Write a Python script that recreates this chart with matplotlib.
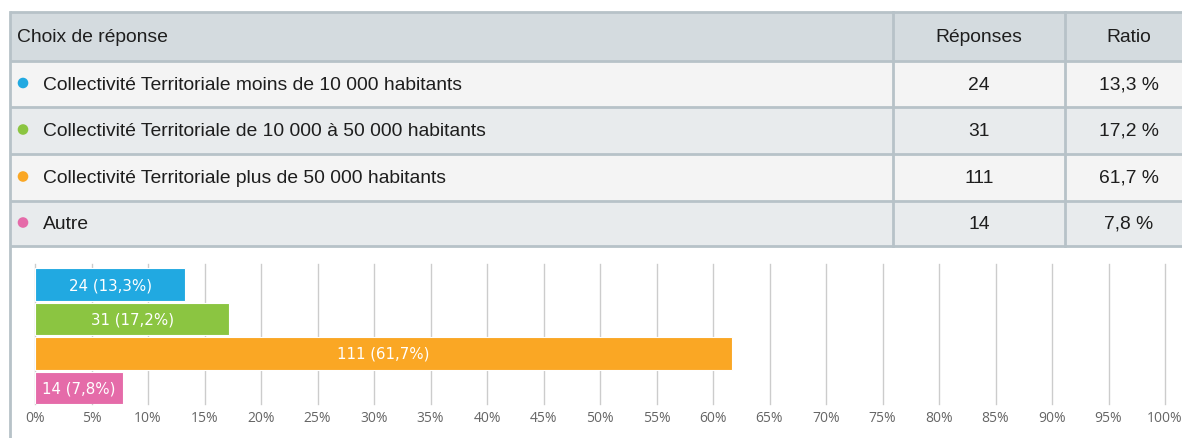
import matplotlib
matplotlib.use("Agg")
import matplotlib.pyplot as plt
from matplotlib.patches import Rectangle, Circle

# ---- data ----
categories = [
    "Collectivité Territoriale moins de 10 000 habitants",
    "Collectivité Territoriale de 10 000 à 50 000 habitants",
    "Collectivité Territoriale plus de 50 000 habitants",
    "Autre",
]
responses = [24, 31, 111, 14]
ratios = [13.3, 17.2, 61.7, 7.8]
colors = ["#21a9e1", "#8bc541", "#faa724", "#e56ba9"]
header = ["Choix de réponse", "Réponses", "Ratio"]
xticks = list(range(0, 101, 5))

W, H = 1182, 439
fig = plt.figure(figsize=(W / 100, H / 100), dpi=100)
fig.patch.set_facecolor("white")

TFONT = ["Liberation Sans", "DejaVu Sans"]

# ---- table layer (pixel coordinates) ----
bg = fig.add_axes([0, 0, 1, 1])
bg.set_xlim(0, W)
bg.set_ylim(H, 0)
bg.axis("off")

border = "#b7c2c8"
row_edges = [13, 62, 108, 155, 202, 247]
row_fill = ["#d4dbdf", "#f4f4f4", "#e8ebed", "#f4f4f4", "#e8ebed"]
col_sep = [893, 1065]
left = 10

for i in range(5):
    y0, y1 = row_edges[i], row_edges[i + 1]
    bg.add_patch(Rectangle((left, y0), W - left, y1 - y0, facecolor=row_fill[i],
                           edgecolor="none", zorder=1))
for y in row_edges:
    bg.plot([left, W], [y, y], color=border, lw=2, zorder=2, solid_capstyle="butt")
for x in col_sep:
    bg.plot([x, x], [row_edges[0], row_edges[-1]], color=border, lw=2, zorder=2)
bg.plot([left, left], [row_edges[0], H], color=border, lw=2, zorder=2)

fs = 13.9
tc = "#1e1e1e"
yc = (row_edges[0] + row_edges[1]) / 2
bg.text(17, yc, header[0], ha="left", va="center", fontsize=fs, family=TFONT,
        color=tc, zorder=3)
bg.text(979, yc, header[1], ha="center", va="center", fontsize=fs, family=TFONT,
        color=tc, zorder=3)
bg.text(1129, yc, header[2], ha="center", va="center", fontsize=fs, family=TFONT,
        color=tc, zorder=3)

for i, (cat, n, r, c) in enumerate(zip(categories, responses, ratios, colors)):
    yc = (row_edges[i + 1] + row_edges[i + 2]) / 2
    bg.add_patch(Circle((23, yc - 1), 5.3, facecolor=c, edgecolor="none", zorder=3))
    bg.text(43, yc, cat, ha="left", va="center", fontsize=fs, family=TFONT,
            color=tc, zorder=3)
    bg.text(979, yc, f"{n}", ha="center", va="center", fontsize=fs, family=TFONT,
            color=tc, zorder=3)
    bg.text(1129, yc, f"{r:.1f}".replace(".", ",") + " %", ha="center", va="center",
            fontsize=fs, family=TFONT, color=tc, zorder=3)

# ---- bar chart ----
ax_l, ax_r, ax_t, ax_b = 35, 1165, 265, 405
ax = fig.add_axes([ax_l / W, 1 - ax_b / H, (ax_r - ax_l) / W, (ax_b - ax_t) / H])
ax.patch.set_alpha(0)
ypos = list(range(len(categories)))
ax.barh(ypos, ratios, height=0.93, color=colors, edgecolor="#ffffff", linewidth=0.8,
        zorder=3)
ax.set_xlim(0, 100)
ax.set_ylim(3.465, -0.595)
ax.set_xticks(xticks)
ax.set_xticklabels([f"{t}%" for t in xticks], color="#666666", fontsize=10,
                   family=["Open Sans", "DejaVu Sans"])
ax.tick_params(axis="x", length=0, pad=4)
ax.set_yticks([])
ax.grid(axis="x", color="#cccccc", lw=1, zorder=0)
for gl in ax.get_xgridlines():
    gl.set_clip_on(False)
for s in ax.spines.values():
    s.set_visible(False)

for y, n, r in zip(ypos, responses, ratios):
    ax.text(r / 2, y, f"{n} ({r:.1f}%)".replace(".", ","), ha="center", va="center",
            color="white", fontsize=10.8, family="DejaVu Sans", zorder=4)

fig.savefig("out.png", dpi=100, facecolor="white")
